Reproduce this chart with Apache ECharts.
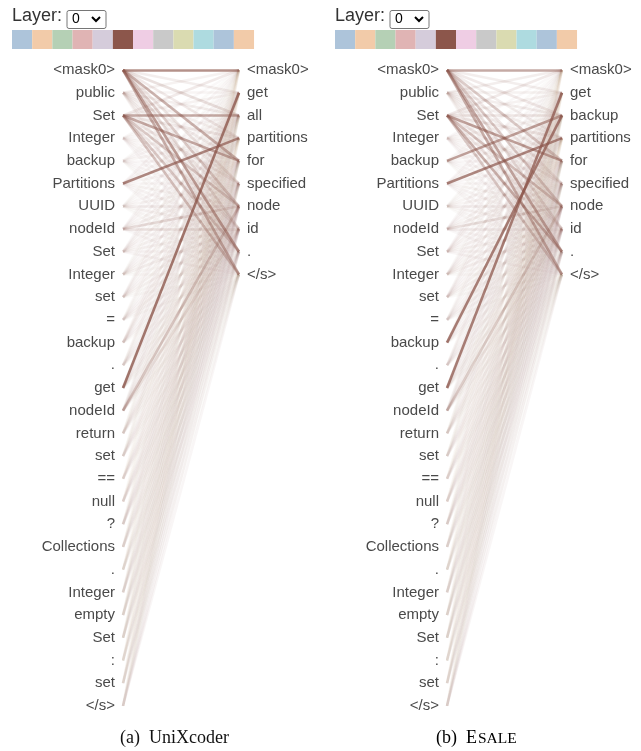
<!DOCTYPE html>
<html>
<head>
<meta charset="utf-8">
<script src="https://cdn.jsdelivr.net/npm/echarts@6/dist/echarts.min.js"></script>
<style>html,body{margin:0;padding:0;background:#fff}#c{width:641px;height:751px}</style>
</head>
<body>
<div id="c"></div>
<script>
const leftTokens = ['<mask0>','public','Set','Integer','backup','Partitions','UUID','nodeId','Set','Integer','set','=','backup','.','get','nodeId','return','set','==','null','?','Collections','.','Integer','empty','Set',':','set','</s>'];
const rightTokensA = ['<mask0>','get','all','partitions','for','specified','node','id','.','</s>'];
const rightTokensB = ['<mask0>','get','backup','partitions','for','specified','node','id','.','</s>'];
const headColors = ['#adc4da','#f2cba9','#b5d0b5','#e0b4b4','#d5ccdb','#8c564b','#efcde4','#c9c9c9','#dadbb1','#aedbe0','#adc4da','#f2cba9'];
const layerValue = '0';
const captionA = '(a)  UniXcoder';
// attention weights: rows = left tokens, columns = right tokens
const attnA = [
 [0.65,0.10,0.18,0.12,0.45,0.15,0.28,0.18,0.55,0.45],
 [0.08,0.06,0.10,0.07,0.10,0.08,0.10,0.06,0.08,0.06],
 [0.12,0.08,0.50,0.12,0.50,0.12,0.30,0.12,0.30,0.35],
 [0.04,0.03,0.05,0.04,0.06,0.05,0.06,0.05,0.04,0.04],
 [0.03,0.04,0.05,0.06,0.05,0.04,0.05,0.04,0.03,0.03],
 [0.05,0.04,0.06,0.70,0.05,0.05,0.06,0.05,0.04,0.04],
 [0.03,0.03,0.04,0.03,0.05,0.06,0.10,0.06,0.03,0.03],
 [0.04,0.04,0.05,0.04,0.06,0.08,0.20,0.15,0.04,0.04],
 [0.04,0.04,0.06,0.04,0.07,0.05,0.06,0.06,0.05,0.05],
 [0.03,0.03,0.04,0.04,0.05,0.06,0.06,0.08,0.03,0.03],
 [0.03,0.05,0.05,0.03,0.05,0.05,0.06,0.06,0.03,0.03],
 [0.02,0.04,0.03,0.03,0.04,0.05,0.05,0.06,0.04,0.03],
 [0.02,0.05,0.06,0.07,0.04,0.04,0.05,0.05,0.03,0.02],
 [0.02,0.05,0.03,0.03,0.04,0.04,0.05,0.05,0.03,0.02],
 [0.03,0.80,0.05,0.04,0.05,0.04,0.06,0.06,0.03,0.03],
 [0.03,0.04,0.04,0.03,0.05,0.06,0.30,0.15,0.04,0.03],
 [0.02,0.03,0.03,0.02,0.04,0.05,0.06,0.06,0.04,0.03],
 [0.02,0.03,0.03,0.02,0.03,0.04,0.05,0.05,0.04,0.03],
 [0.02,0.02,0.02,0.02,0.03,0.04,0.05,0.05,0.04,0.03],
 [0.02,0.02,0.02,0.02,0.03,0.04,0.05,0.05,0.04,0.03],
 [0.02,0.02,0.03,0.02,0.04,0.04,0.05,0.05,0.04,0.03],
 [0.02,0.02,0.03,0.02,0.03,0.04,0.04,0.04,0.04,0.03],
 [0.02,0.02,0.02,0.02,0.03,0.03,0.04,0.04,0.03,0.03],
 [0.02,0.02,0.03,0.02,0.03,0.04,0.04,0.04,0.04,0.03],
 [0.02,0.02,0.03,0.02,0.03,0.03,0.04,0.04,0.04,0.03],
 [0.02,0.02,0.03,0.02,0.03,0.03,0.04,0.04,0.04,0.03],
 [0.02,0.02,0.02,0.02,0.02,0.03,0.04,0.04,0.03,0.03],
 [0.02,0.02,0.02,0.02,0.03,0.03,0.04,0.04,0.04,0.03],
 [0.02,0.02,0.03,0.02,0.03,0.03,0.04,0.04,0.05,0.05]
];
const attnB = [
 [0.50,0.10,0.12,0.10,0.30,0.12,0.30,0.18,0.50,0.45],
 [0.10,0.08,0.10,0.08,0.10,0.08,0.08,0.06,0.06,0.06],
 [0.12,0.08,0.15,0.12,0.55,0.12,0.35,0.12,0.45,0.30],
 [0.04,0.04,0.06,0.05,0.06,0.05,0.06,0.05,0.05,0.04],
 [0.03,0.04,0.55,0.06,0.05,0.04,0.05,0.04,0.03,0.03],
 [0.05,0.04,0.06,0.70,0.05,0.05,0.06,0.05,0.04,0.04],
 [0.03,0.03,0.04,0.03,0.06,0.06,0.10,0.06,0.03,0.03],
 [0.04,0.04,0.05,0.04,0.06,0.08,0.18,0.10,0.04,0.04],
 [0.04,0.05,0.07,0.04,0.07,0.05,0.06,0.06,0.05,0.05],
 [0.03,0.04,0.05,0.05,0.06,0.06,0.07,0.07,0.03,0.03],
 [0.03,0.05,0.05,0.04,0.05,0.05,0.06,0.06,0.03,0.03],
 [0.02,0.04,0.04,0.03,0.04,0.05,0.05,0.06,0.04,0.03],
 [0.02,0.05,0.75,0.06,0.04,0.04,0.05,0.05,0.03,0.02],
 [0.02,0.05,0.04,0.03,0.04,0.04,0.05,0.05,0.03,0.02],
 [0.03,0.75,0.05,0.04,0.05,0.04,0.06,0.06,0.03,0.03],
 [0.03,0.04,0.04,0.03,0.05,0.06,0.25,0.10,0.04,0.03],
 [0.02,0.03,0.03,0.02,0.04,0.05,0.06,0.06,0.04,0.03],
 [0.02,0.03,0.03,0.02,0.03,0.04,0.05,0.05,0.04,0.03],
 [0.02,0.02,0.02,0.02,0.03,0.04,0.05,0.05,0.04,0.03],
 [0.02,0.02,0.02,0.02,0.03,0.04,0.05,0.05,0.04,0.03],
 [0.02,0.02,0.03,0.02,0.04,0.04,0.05,0.05,0.04,0.03],
 [0.02,0.02,0.03,0.02,0.03,0.04,0.04,0.04,0.04,0.03],
 [0.02,0.02,0.02,0.02,0.03,0.03,0.04,0.04,0.03,0.03],
 [0.02,0.02,0.03,0.02,0.03,0.04,0.04,0.04,0.04,0.03],
 [0.02,0.02,0.03,0.02,0.03,0.03,0.04,0.04,0.04,0.03],
 [0.02,0.02,0.03,0.02,0.03,0.03,0.04,0.04,0.04,0.03],
 [0.02,0.02,0.02,0.02,0.02,0.03,0.04,0.04,0.03,0.03],
 [0.02,0.02,0.02,0.02,0.03,0.03,0.04,0.04,0.04,0.03],
 [0.02,0.02,0.03,0.02,0.03,0.03,0.04,0.04,0.05,0.05]
];

const chart = echarts.init(document.getElementById('c'), null, {renderer: 'canvas'});
const FONT = 'Liberation Sans, Arial, sans-serif';
const SERIF = 'Liberation Serif, DejaVu Serif, serif';
const LINE = '#8c564b';

function pad(arr, n) { const out = arr.slice(); while (out.length < n) out.push(''); return out; }
function linkData(m) {
  const d = [];
  m.forEach((row, i) => row.forEach((w, j) => d.push({ w, coords: [[0, i], [1, j]], lineStyle: { opacity: w } })));
  d.sort((a, b) => a.w - b.w);
  return d;
}

const grids = [
  { left: 123, width: 116, top: 70, height: 636 },
  { left: 447, width: 115, top: 70, height: 636 }
];
const rights = [rightTokensA, rightTokensB];
const mats = [attnA, attnB];

const labelStyle = { margin: 8, color: '#4a4a4a', fontSize: 15, fontFamily: FONT, interval: 0 };
const xAxis = [], yAxis = [], series = [];
grids.forEach((g, k) => {
  xAxis.push({ gridIndex: k, type: 'value', min: 0, max: 1, show: false });
  yAxis.push({ gridIndex: k, type: 'category', inverse: true, boundaryGap: false, position: 'left', data: leftTokens,
    axisLine: { show: false }, axisTick: { show: false }, splitLine: { show: false }, axisLabel: labelStyle });
  yAxis.push({ gridIndex: k, type: 'category', inverse: true, boundaryGap: false, position: 'right', data: pad(rights[k], leftTokens.length),
    axisLine: { show: false }, axisTick: { show: false }, splitLine: { show: false }, axisLabel: labelStyle });
  series.push({ type: 'lines', coordinateSystem: 'cartesian2d', xAxisIndex: k, yAxisIndex: 2 * k, silent: true,
    lineStyle: { color: LINE, width: 2.6, curveness: 0 }, data: linkData(mats[k]), z: 2 });
});

const graphic = [];
[12, 335].forEach((x0, k) => {
  graphic.push({ type: 'text', left: x0, top: 7, style: { text: 'Layer:', fontSize: 18, fontFamily: FONT, fill: '#333' } });
  graphic.push({ type: 'rect', shape: { x: x0 + 55, y: 10.5, width: 39, height: 18, r: 2 }, style: { fill: '#fff', stroke: '#767676', lineWidth: 1 } });
  graphic.push({ type: 'text', left: x0 + 60, top: 12, style: { text: layerValue, fontSize: 14, fontFamily: FONT, fill: '#000' } });
  graphic.push({ type: 'polyline', shape: { points: [[x0 + 80, 17], [x0 + 84, 21], [x0 + 88, 17]] }, style: { stroke: '#000', lineWidth: 2, fill: null } });
  headColors.forEach((c, i) => {
    graphic.push({ type: 'rect', shape: { x: x0 + i * 20.17, y: 30, width: 20.17, height: 19 }, style: { fill: c } });
  });
});
graphic.push({ type: 'text', left: 120, top: 729, style: { text: captionA, fontSize: 18, fontFamily: SERIF, fill: '#111' } });
graphic.push({ type: 'text', left: 436, top: 729, style: {
  text: '{a|(b)  E}{b|SALE}',
  rich: { a: { fontSize: 18, fontFamily: SERIF, color: '#111' },
          b: { fontSize: 15.5, fontFamily: SERIF, color: '#111', padding: [2, 0, 0, 1] } } } });

chart.setOption({ animation: false, backgroundColor: '#fff', grid: grids, xAxis, yAxis, series, graphic });
</script>
</body>
</html>
